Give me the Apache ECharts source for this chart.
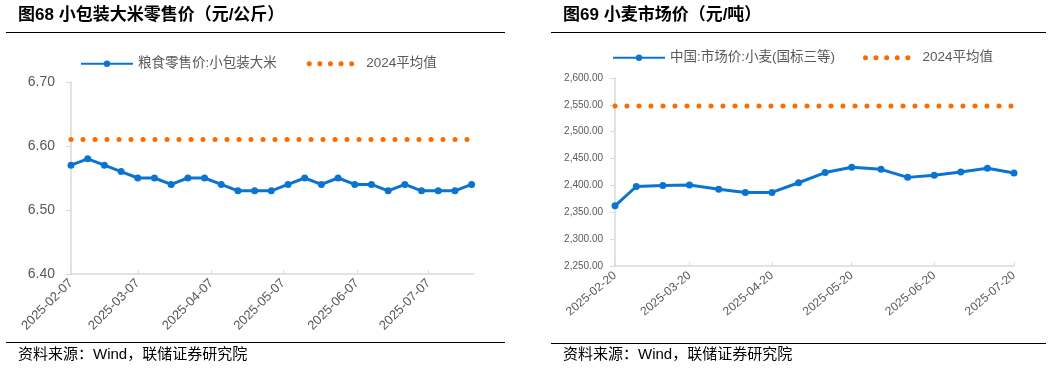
<!DOCTYPE html>
<html><head><meta charset="utf-8">
<script src="https://cdn.jsdelivr.net/npm/echarts@6/dist/echarts.min.js"></script>
<style>html,body{margin:0;padding:0;background:#fff}#c{width:1056px;height:368px}</style>
</head><body><div id="c"></div>
<script>
// ---- data ----
const riceDates = ['2025-02-07','2025-02-14','2025-02-21','2025-02-28','2025-03-07','2025-03-14','2025-03-21','2025-03-28','2025-04-04','2025-04-11','2025-04-18','2025-04-25','2025-05-02','2025-05-09','2025-05-16','2025-05-23','2025-05-30','2025-06-06','2025-06-13','2025-06-20','2025-06-27','2025-07-04','2025-07-11','2025-07-18','2025-07-25'];
const riceValues = [6.57,6.58,6.57,6.56,6.55,6.55,6.54,6.55,6.55,6.54,6.53,6.53,6.53,6.54,6.55,6.54,6.55,6.54,6.54,6.53,6.54,6.53,6.53,6.53,6.54];
const riceAvg2024 = 6.61;
const riceTicks = ['2025-02-07','2025-03-07','2025-04-07','2025-05-07','2025-06-07','2025-07-07'];
const riceXRange = ['2025-02-07','2025-07-26'];
const riceYRange = [6.4, 6.7, 0.1];

const wheatDates = ['2025-02-20','2025-02-28','2025-03-10','2025-03-20','2025-03-31','2025-04-10','2025-04-20','2025-04-30','2025-05-10','2025-05-20','2025-05-31','2025-06-10','2025-06-20','2025-06-30','2025-07-10','2025-07-20'];
const wheatValues = [2362,2398,2400,2401,2393,2387,2387,2405,2424,2434,2430,2415,2419,2425,2432,2423];
const wheatAvg2024 = 2548;
const wheatTicks = ['2025-02-20','2025-03-20','2025-04-20','2025-05-20','2025-06-20','2025-07-20'];
const wheatXRange = ['2025-02-20','2025-07-20'];
const wheatYRange = [2250, 2600, 50];

const riceName = '粮食零售价:小包装大米';
const wheatName = '中国:市场价:小麦(国标三等)';
const avgName = '2024平均值';

// ---- helpers ----
function t(s){ const p = s.split('-').map(Number); return new Date(p[0], p[1]-1, p[2]).getTime(); }
function fmtDate(v){ const d = new Date(v); const p = n => (n<10?'0':'')+n; return d.getFullYear()+'-'+p(d.getMonth()+1)+'-'+p(d.getDate()); }
const BLUE = '#0b74d1', ORANGE = '#ff6a00', AXIS = '#d9d9d9', LABEL = '#595959';
const FONT = '"Liberation Sans","Noto Sans CJK SC",sans-serif';

function xAxis(grid, range, ticks, rot, fs, margin){
  return {
    type:'value', gridIndex:grid, min:t(range[0]), max:t(range[1]), scale:true,
    axisLine:{show:true, onZero:false, lineStyle:{color:AXIS, width:1.5}},
    axisTick:{show:true, inside:true, length:4, customValues:ticks.map(t), lineStyle:{color:AXIS, width:1}},
    axisLabel:{customValues:ticks.map(t), rotate:rot, fontSize:fs, color:LABEL, margin:margin, fontFamily:FONT,
      formatter:v=>fmtDate(v), hideOverlap:false, showMinLabel:true, showMaxLabel:true},
    splitLine:{show:false}
  };
}
function yAxis(grid, r, fs, margin, fmt){
  return {
    type:'value', gridIndex:grid, min:r[0], max:r[1], interval:r[2],
    axisLine:{show:true, lineStyle:{color:AXIS, width:1.5}},
    axisTick:{show:true, length:5, lineStyle:{color:AXIS, width:1}},
    axisLabel:{fontSize:fs, color:LABEL, margin:margin, fontFamily:FONT, formatter:fmt},
    splitLine:{show:false}
  };
}
function mainSeries(name, xi, dates, vals){
  return {type:'line', name:name, xAxisIndex:xi, yAxisIndex:xi,
    data:dates.map((d,i)=>[t(d), vals[i]]), symbol:'circle', symbolSize:7,
    lineStyle:{width:3, color:BLUE}, itemStyle:{color:BLUE, borderWidth:0}, z:3};
}
function avgSeries(xi, dates, avg){
  return {type:'line', name:avgName, xAxisIndex:xi, yAxisIndex:xi,
    data:[[t(dates[0]), avg],[t(dates[dates.length-1]), avg]], symbol:'none',
    lineStyle:{width:5, color:ORANGE, type:[0,12], cap:'round'}, itemStyle:{color:ORANGE}, z:2};
}
function legend(left, top, names, gap){
  return {left:left, top:top, itemWidth:52, itemHeight:8, itemGap:gap, padding:0,
    textStyle:{fontSize:13.5, color:LABEL, fontFamily:FONT},
    data:[{name:names[0]},
          {name:names[1], itemStyle:{opacity:0}, lineStyle:{type:[0,10.6], width:5, cap:'round', color:ORANGE}}]};
}
function txt(x, y, s, font, fill){
  return {type:'text', x:x, y:y, silent:true, style:{text:s, font:font, fill:fill||'#000', verticalAlign:'middle', align:'left'}};
}
function rule(x1, x2, y){
  return {type:'line', silent:true, shape:{x1:x1, y1:y, x2:x2, y2:y}, style:{stroke:'#000', lineWidth:1.2}};
}

const chart = echarts.init(document.getElementById('c'), null, {renderer:'canvas'});
chart.setOption({
  animation:false,
  backgroundColor:'#fff',
  grid:[
    {left:71, top:82, width:403, height:192},
    {left:615, top:78, width:399, height:188}
  ],
  xAxis:[
    xAxis(0, riceXRange, riceTicks, 45, 13, 7),
    xAxis(1, wheatXRange, wheatTicks, 40, 12, 8)
  ],
  yAxis:[
    yAxis(0, riceYRange, 14, 16, v=>v.toFixed(2)),
    yAxis(1, wheatYRange, 10, 12, v=>v.toLocaleString('en-US',{minimumFractionDigits:2, maximumFractionDigits:2}))
  ],
  legend:[
    legend(80, 57, [riceName, avgName], 30),
    legend(612, 51, [wheatName, avgName], 28)
  ],
  series:[
    avgSeries(0, riceDates, riceAvg2024),
    mainSeries(riceName, 0, riceDates, riceValues),
    avgSeries(1, wheatDates, wheatAvg2024),
    mainSeries(wheatName, 1, wheatDates, wheatValues)
  ],
  graphic:[
    txt(18, 15, '图68 小包装大米零售价（元/公斤）', 'bold 17px '+FONT),
    txt(563, 15, '图69 小麦市场价（元/吨）', 'bold 17px '+FONT),
    rule(6, 505, 32.5), rule(551, 1046, 32.5),
    rule(6, 505, 342.5), rule(551, 1046, 343.5),
    txt(18, 355, '资料来源：Wind，联储证券研究院', '15px '+FONT),
    txt(563, 355, '资料来源：Wind，联储证券研究院', '15px '+FONT)
  ]
});
</script></body></html>
